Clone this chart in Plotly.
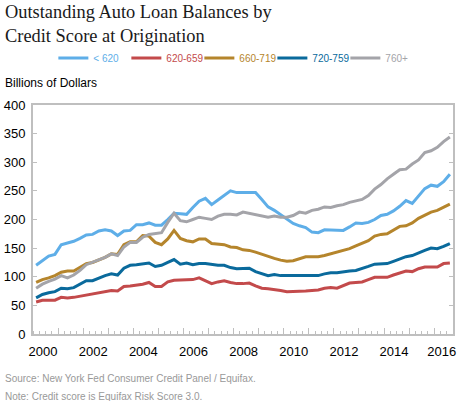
import plotly.graph_objects as go

# quarterly, 2000Q1 - 2016Q3 (points plotted mid-quarter)
quarters = [2000.125 + 0.25 * i for i in range(67)]

under_620 = [120, 128, 136, 139, 156, 159, 162, 167, 173, 174, 180, 182, 180, 172, 180, 181,
             191, 191, 194, 190, 190, 200, 211, 210, 209, 221, 232, 237, 226, 234, 242, 250,
             247, 247, 247, 247, 235, 222, 216, 208, 200, 193, 189, 186, 178, 177, 182, 182,
             181, 181, 187, 194, 193, 195, 200, 207, 209, 215, 223, 233, 228, 242, 254, 260,
             258, 266, 279]
s620_659 = [56, 59, 59, 59, 64, 63, 64, 66, 67, 69, 71, 74, 76, 75, 83, 84,
            85, 87, 90, 83, 83, 91, 94, 94, 94, 95, 98, 93, 88, 91, 93, 90,
            88, 88, 89, 84, 80, 79, 78, 76, 74, 74, 74, 75, 76, 77, 80, 81,
            80, 85, 89, 90, 91, 95, 99, 99, 99, 103, 106, 110, 109, 114, 117, 117,
            117, 123, 124]
s660_719 = [90, 95, 98, 102, 108, 110, 110, 117, 123, 125, 129, 134, 140, 139, 156, 161,
            161, 172, 171, 160, 156, 166, 181, 167, 163, 161, 166, 166, 158, 157, 156, 152,
            151, 147, 146, 143, 139, 135, 132, 129, 127, 128, 132, 135, 135, 135, 137, 140,
            143, 145, 149, 154, 159, 163, 171, 174, 175, 181, 188, 189, 194, 202, 208, 213,
            216, 221, 227]
s720_759 = [63, 69, 72, 74, 80, 79, 81, 87, 93, 93, 98, 102, 105, 103, 115, 120,
            121, 122, 124, 118, 120, 125, 130, 122, 124, 121, 123, 123, 121, 120, 120, 116,
            114, 114, 115, 109, 105, 102, 104, 102, 102, 102, 102, 102, 102, 102, 105, 107,
            107, 109, 110, 111, 114, 118, 122, 122, 123, 127, 131, 135, 137, 142, 146, 150,
            149, 153, 158]
s760_plus = [80, 87, 92, 96, 102, 98, 103, 111, 121, 125, 129, 134, 140, 137, 152, 160,
             160, 169, 174, 176, 177, 195, 211, 198, 196, 200, 204, 202, 200, 206, 209, 209,
             208, 213, 211, 208, 207, 204, 206, 204, 204, 207, 213, 211, 216, 218, 222, 221,
             224, 226, 230, 233, 235, 242, 253, 261, 271, 279, 287, 288, 297, 304, 317, 320,
             326, 336, 344]

series = [
    ("< 620", under_620, "#5eaee8"),
    ("620-659", s620_659, "#c34a4b"),
    ("660-719", s660_719, "#b5852c"),
    ("720-759", s720_759, "#0a6a9c"),
    ("760+", s760_plus, "#a4a4a9"),
]

year_ticks = list(range(2000, 2017))
label_years = list(range(2000, 2017, 2))
quarter_ticks = [2000 + 0.25 * i for i in range(68)]

# label positions: slightly right of the year tick, last one pulled in to fit
label_pos = [y + 0.4 for y in label_years[:-1]] + [label_years[-1] + 0.3]

axis_grey = "#bfbfbf"
sans = "Liberation Sans, Arial, sans-serif"

fig = go.Figure()

for name, vals, color in series:
    fig.add_trace(go.Scatter(
        x=quarters, y=vals, mode="lines",
        name="<span style='color:%s'>%s</span>" % (color, name),
        line=dict(color=color, width=3),
    ))

# extra axis only for the taller yearly ticks
fig.add_trace(go.Scatter(x=[2000, 2016.75], y=[0, 0], xaxis="x2", mode="lines",
                         line=dict(width=0), showlegend=False, hoverinfo="skip"))

fig.update_layout(
    width=460, height=401,
    margin=dict(l=30, r=4, t=105, b=67),
    paper_bgcolor="white", plot_bgcolor="white",
    font=dict(family=sans, size=13, color="#000"),
    legend=dict(
        orientation="h", x=0.483, xanchor="center", y=1.205, yanchor="middle",
        font=dict(size=10), itemwidth=30, entrywidth=28, tracegroupgap=0,
        bgcolor="rgba(0,0,0,0)",
    ),
    xaxis=dict(
        range=[2000, 2016.75], showgrid=False, zeroline=False,
        showline=True, linecolor=axis_grey, linewidth=2, mirror=True,
        tickvals=label_pos, ticktext=[str(y) for y in label_years],
        ticks="", tickfont=dict(size=13), ticklabelstandoff=4,
        ticklabeloverflow="allow",
        minor=dict(tickvals=quarter_ticks, ticks="inside", ticklen=3,
                   tickcolor=axis_grey, tickwidth=1, showgrid=False),
    ),
    xaxis2=dict(
        range=[2000, 2016.75], overlaying="x", anchor="y", side="bottom",
        showgrid=False, zeroline=False, showline=False,
        tickvals=year_ticks, ticks="inside", ticklen=6, tickcolor=axis_grey,
        tickwidth=1, showticklabels=False,
    ),
    yaxis=dict(
        range=[0, 400], dtick=50, showgrid=False, zeroline=False,
        showline=True, linecolor=axis_grey, linewidth=2, mirror="ticks",
        ticks="inside", ticklen=4, tickcolor=axis_grey, tickwidth=1,
        tickfont=dict(size=13), ticklabelstandoff=3,
    ),
    annotations=[
        dict(text="Outstanding Auto Loan Balances by<br>Credit Score at Origination",
             xref="paper", yref="paper", x=-30 / 426, y=334 / 229,
             xanchor="left", yanchor="top", align="left", showarrow=False,
             font=dict(family="Liberation Serif, Georgia, serif", size=18.4, color="#1a1a1a")),
        dict(text="Billions of Dollars", xref="paper", yref="paper",
             x=-30 / 426, y=(334 - 83) / 229, xanchor="left", yanchor="middle",
             showarrow=False, font=dict(size=12, color="#000")),
        dict(text="Source: New York Fed Consumer Credit Panel / Equifax.",
             xref="paper", yref="paper", x=-30 / 426, y=(334 - 378) / 229,
             xanchor="left", yanchor="middle", showarrow=False,
             font=dict(size=10, color="#999")),
        dict(text="Note: Credit score is Equifax Risk Score 3.0.",
             xref="paper", yref="paper", x=-30 / 426, y=(334 - 396) / 229,
             xanchor="left", yanchor="middle", showarrow=False,
             font=dict(size=10, color="#999")),
    ],
)

fig.write_html("out.html", config={"displayModeBar": False},
               post_script="document.body.style.margin='0px';")
